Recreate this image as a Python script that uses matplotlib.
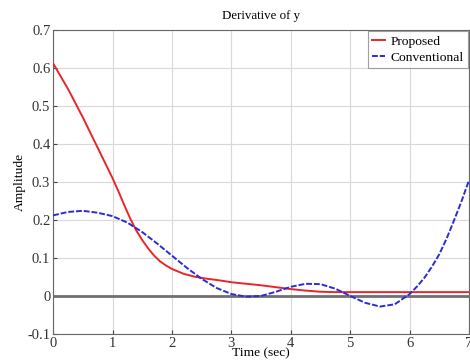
import numpy as np
import matplotlib
matplotlib.use("Agg")
import matplotlib.pyplot as plt

# values
t_prop = [0, 0.25, 0.5, 0.75, 1.0, 1.1, 1.2, 1.3, 1.4, 1.5, 1.6, 1.7, 1.8, 1.9, 2.0, 2.2, 2.4, 2.6, 2.8,
          3.0, 3.25, 3.5, 3.75, 4.0, 4.25, 4.5, 4.75, 5.0, 6.0, 7.0]
v_prop = [0.612, 0.545, 0.47, 0.39, 0.31, 0.275, 0.238, 0.203, 0.172, 0.147, 0.125, 0.106, 0.091, 0.08, 0.071,
          0.058, 0.05, 0.045, 0.041, 0.036, 0.032, 0.028, 0.023, 0.018, 0.014, 0.011, 0.01, 0.01, 0.01, 0.01]

t_conv = [0, 0.25, 0.5, 0.75, 1.0, 1.25, 1.5, 1.75, 2.0, 2.25, 2.5, 2.75, 3.0, 3.25, 3.5, 3.75, 4.0,
          4.25, 4.5, 4.75, 5.0, 5.25, 5.5, 5.75, 6.0, 6.125, 6.25, 6.375, 6.5, 6.625, 6.75, 6.875, 7.0]
v_conv = [0.212, 0.221, 0.224, 0.219, 0.21, 0.193, 0.168, 0.138, 0.106, 0.074, 0.045, 0.021, 0.005, -0.002,
          0.0, 0.011, 0.024, 0.032, 0.031, 0.019, 0.0, -0.018, -0.028, -0.022, 0.005, 0.025, 0.048, 0.077,
          0.11, 0.152, 0.2, 0.25, 0.305]

xticks = [0, 1, 2, 3, 4, 5, 6, 7]
yticks = [-0.1, 0, 0.1, 0.2, 0.3, 0.4, 0.5, 0.6, 0.7]
ytick_labels = ['-0.1', '0', '0.1', '0.2', '0.3', '0.4', '0.5', '0.6', '0.7']

plt.rcParams['font.family'] = ['Liberation Serif', 'DejaVu Serif']
plt.rcParams['font.size'] = 10

fig = plt.figure(figsize=(4.7, 3.61), dpi=100)
ax = fig.add_axes([0.113, 0.075, 0.885, 0.842])

ax.axhline(0, color='#707070', lw=2, zorder=2)
ax.plot(t_prop, v_prop, color='#e8262a', lw=1.4, label='Proposed', zorder=3)
ax.plot(t_conv, v_conv, color='#2b2bd8', lw=1.4, ls='--', dashes=(3, 1), label='Conventional', zorder=3)

ax.set_xlim(0, 7)
ax.set_ylim(-0.1, 0.7)
ax.set_xticks(xticks)
ax.set_xticklabels([str(x) for x in xticks])
ax.set_yticks(yticks)
ax.set_yticklabels(ytick_labels)
ax.grid(True, color='#d8d8d8', lw=0.8)
ax.tick_params(direction='in', length=3, pad=2, colors='#444444', labelcolor='#333333', labelsize=10.5)
for s in ax.spines.values():
    s.set_color('#666666')
    s.set_linewidth(0.8)

ax.set_title('Derivative of y', fontsize=9.3, pad=8)
ax.set_xlabel('Time (sec)', fontsize=9.7, labelpad=-2)
ax.set_ylabel('Amplitude', fontsize=9.7, labelpad=1)

leg = ax.legend(loc='upper right', fontsize=9.7, frameon=True, fancybox=False,
                handlelength=1.0, borderpad=0.3, labelspacing=0.25, handletextpad=0.4,
                borderaxespad=0.1)
leg.get_frame().set_edgecolor('#888888')
leg.get_frame().set_linewidth(0.8)

fig.savefig('out.png', dpi=100)
